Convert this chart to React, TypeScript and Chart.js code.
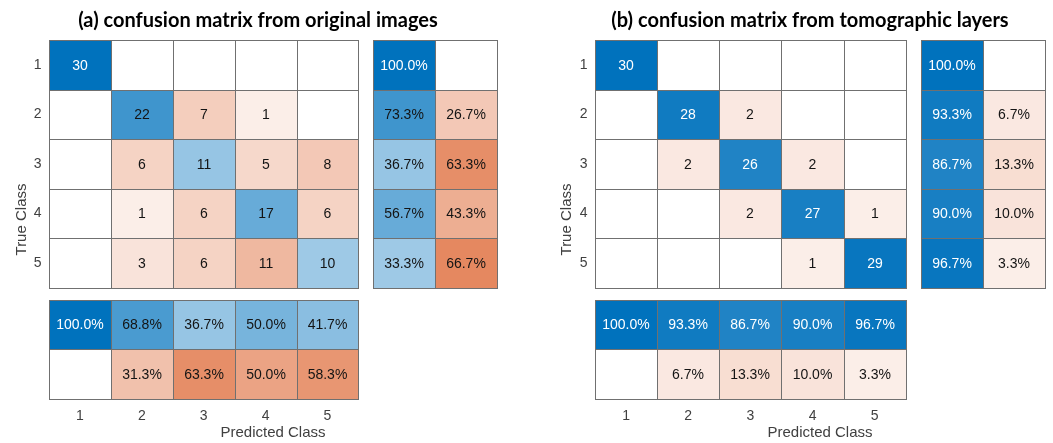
import React, { useEffect, useRef } from 'react';
import { Chart, registerables } from 'chart.js';

Chart.register(...registerables);

// ---------- data ----------
const classLabels = ['1', '2', '3', '4', '5'];

const countsA = [
  [30, 0, 0, 0, 0],
  [0, 22, 7, 1, 0],
  [0, 6, 11, 5, 8],
  [0, 1, 6, 17, 6],
  [0, 3, 6, 11, 10],
];
const rowCorrectA = [100.0, 73.3, 36.7, 56.7, 33.3];
const rowWrongA = [0, 26.7, 63.3, 43.3, 66.7];
const colCorrectA = [100.0, 68.8, 36.7, 50.0, 41.7];
const colWrongA = [0, 31.3, 63.3, 50.0, 58.3];

const countsB = [
  [30, 0, 0, 0, 0],
  [0, 28, 2, 0, 0],
  [0, 2, 26, 2, 0],
  [0, 0, 2, 27, 1],
  [0, 0, 0, 1, 29],
];
const rowCorrectB = [100.0, 93.3, 86.7, 90.0, 96.7];
const rowWrongB = [0, 6.7, 13.3, 10.0, 3.3];
const colCorrectB = [100.0, 93.3, 86.7, 90.0, 96.7];
const colWrongB = [0, 6.7, 13.3, 10.0, 3.3];

const titleA = '(a) confusion matrix from original images';
const titleB = '(b) confusion matrix from tomographic layers';

// ---------- style ----------
const GAP = 0.24;
const MAXV = 5 + GAP + 2;
const BLUE = [0, 114, 189];
const ORANGE = [217, 83, 25];
const AXIS_COLOR = '#404040';
const SANS = "'Liberation Sans', Arial, sans-serif";

function shade(base: number[], v: number) {
  if (v <= 0) return { fill: '#ffffff', dark: false };
  const t = 0.07 + 0.93 * Math.min(1, v);
  const c = base.map((b) => Math.round(255 + (b - 255) * t));
  return { fill: `rgb(${c[0]},${c[1]},${c[2]})`, dark: t > 0.8 };
}

type PanelData = {
  counts: number[][];
  rowCorrect: number[];
  rowWrong: number[];
  colCorrect: number[];
  colWrong: number[];
};

function makeMatrixPlugin(d: PanelData) {
  return {
    id: 'cmatrix',
    afterDatasetsDraw(chart: any) {
      const ctx = chart.ctx as CanvasRenderingContext2D;
      const xs = chart.scales.x;
      const ys = chart.scales.y;
      const maxCount = Math.max(...d.counts.flat());
      const cell = (x0: number, y0: number, base: number[], v: number, text: string) => {
        const px0 = Math.round(xs.getPixelForValue(x0));
        const px1 = Math.round(xs.getPixelForValue(x0 + 1));
        const py0 = Math.round(ys.getPixelForValue(y0));
        const py1 = Math.round(ys.getPixelForValue(y0 + 1));
        const s = shade(base, v);
        ctx.save();
        ctx.fillStyle = s.fill;
        ctx.fillRect(px0, py0, px1 - px0, py1 - py0);
        ctx.strokeStyle = '#707070';
        ctx.lineWidth = 1;
        ctx.strokeRect(px0 + 0.5, py0 + 0.5, px1 - px0, py1 - py0);
        if (text) {
          ctx.fillStyle = s.dark ? '#ffffff' : '#141414';
          ctx.font = `14px ${SANS}`;
          ctx.textAlign = 'center';
          ctx.textBaseline = 'middle';
          ctx.fillText(text, (px0 + px1) / 2, (py0 + py1) / 2 + 1);
        }
        ctx.restore();
      };
      const pct = (p: number) => (p > 0 ? p.toFixed(1) + '%' : '');
      for (let r = 0; r < 5; r++) {
        for (let c = 0; c < 5; c++) {
          const v = d.counts[r][c];
          cell(c, r, r === c ? BLUE : ORANGE, v / maxCount, v > 0 ? String(v) : '');
        }
        cell(5 + GAP, r, BLUE, d.rowCorrect[r] / 100, pct(d.rowCorrect[r]));
        cell(6 + GAP, r, ORANGE, d.rowWrong[r] / 100, pct(d.rowWrong[r]));
      }
      for (let c = 0; c < 5; c++) {
        cell(c, 5 + GAP, BLUE, d.colCorrect[c] / 100, pct(d.colCorrect[c]));
        cell(c, 6 + GAP, ORANGE, d.colWrong[c] / 100, pct(d.colWrong[c]));
      }
    },
  };
}

type PanelProps = {
  data: PanelData;
  title: string;
  left: number;
  width: number;
  rightSpace: number;
  yAxisWidth: number;
  yTitlePad: number;
};

function Panel({ data, title, left, width, rightSpace, yAxisWidth, yTitlePad }: PanelProps) {
  const ref = useRef<HTMLCanvasElement>(null);
  useEffect(() => {
    if (!ref.current) return;
    const tickSet = (s: any) => {
      s.ticks = classLabels.map((_, i) => ({ value: i + 0.5 }));
    };
    const chart = new Chart(ref.current, {
      type: 'scatter',
      data: { datasets: [{ data: [], pointRadius: 0 }] },
      plugins: [makeMatrixPlugin(data)],
      options: {
        responsive: false,
        animation: false,
        events: [],
        layout: { padding: 0 },
        plugins: {
          legend: { display: false },
          tooltip: { enabled: false },
          title: {
            display: true,
            text: title,
            color: '#000000',
            font: { family: "Lato, 'Open Sans', sans-serif", size: 20, weight: 'bold' },
            padding: { top: 9, bottom: 7 },
          },
        },
        scales: {
          x: {
            type: 'linear',
            position: 'bottom',
            min: 0,
            max: MAXV,
            grid: { display: false, drawTicks: false },
            border: { display: false },
            afterBuildTicks: tickSet,
            afterFit: (s: any) => {
              s.height = 44;
            },
            ticks: {
              autoSkip: false,
              maxRotation: 0,
              padding: 9,
              color: AXIS_COLOR,
              font: { family: SANS, size: 14 },
              callback: (_v: any, i: number) => classLabels[i],
            },
            title: {
              display: true,
              text: 'Predicted Class',
              color: AXIS_COLOR,
              font: { family: SANS, size: 15 },
              padding: { top: 0, bottom: 1 },
            },
          },
          y: {
            type: 'linear',
            position: 'left',
            reverse: true,
            min: 0,
            max: MAXV,
            grid: { display: false, drawTicks: false },
            border: { display: false },
            afterBuildTicks: tickSet,
            afterFit: (s: any) => {
              s.width = yAxisWidth;
            },
            ticks: {
              autoSkip: false,
              padding: 7.5,
              color: AXIS_COLOR,
              font: { family: SANS, size: 14 },
              callback: (_v: any, i: number) => classLabels[i],
            },
            title: {
              display: true,
              text: 'True Class',
              color: AXIS_COLOR,
              font: { family: SANS, size: 15 },
              padding: { top: yTitlePad, bottom: 0 },
            },
          },
          // empty spacer scale on the right so the chart title stays centred on the whole panel
          yRight: {
            type: 'linear',
            position: 'right',
            min: 0,
            max: MAXV,
            grid: { display: false, drawTicks: false },
            border: { display: false },
            ticks: { display: false },
            afterFit: (s: any) => {
              s.width = rightSpace;
            },
          },
        },
      } as any,
    });
    return () => chart.destroy();
  }, []);
  return (
    <canvas
      ref={ref}
      width={width}
      height={443}
      style={{ position: 'absolute', left, top: 0, width, height: 443 }}
    />
  );
}

export default function App() {
  const dA: PanelData = {
    counts: countsA,
    rowCorrect: rowCorrectA,
    rowWrong: rowWrongA,
    colCorrect: colCorrectA,
    colWrong: colWrongA,
  };
  const dB: PanelData = {
    counts: countsB,
    rowCorrect: rowCorrectB,
    rowWrong: rowWrongB,
    colCorrect: colCorrectB,
    colWrong: colWrongB,
  };
  return (
    <div
      style={{
        position: 'fixed',
        left: 0,
        top: 0,
        width: 1053,
        height: 443,
        overflow: 'hidden',
        background: '#ffffff',
      }}
    >
      <Panel data={dA} title={titleA} left={0} width={516} rightSpace={19} yAxisWidth={49} yTitlePad={13} />
      <Panel data={dB} title={titleB} left={550} width={520} rightSpace={25} yAxisWidth={45} yTitlePad={8} />
    </div>
  );
}
